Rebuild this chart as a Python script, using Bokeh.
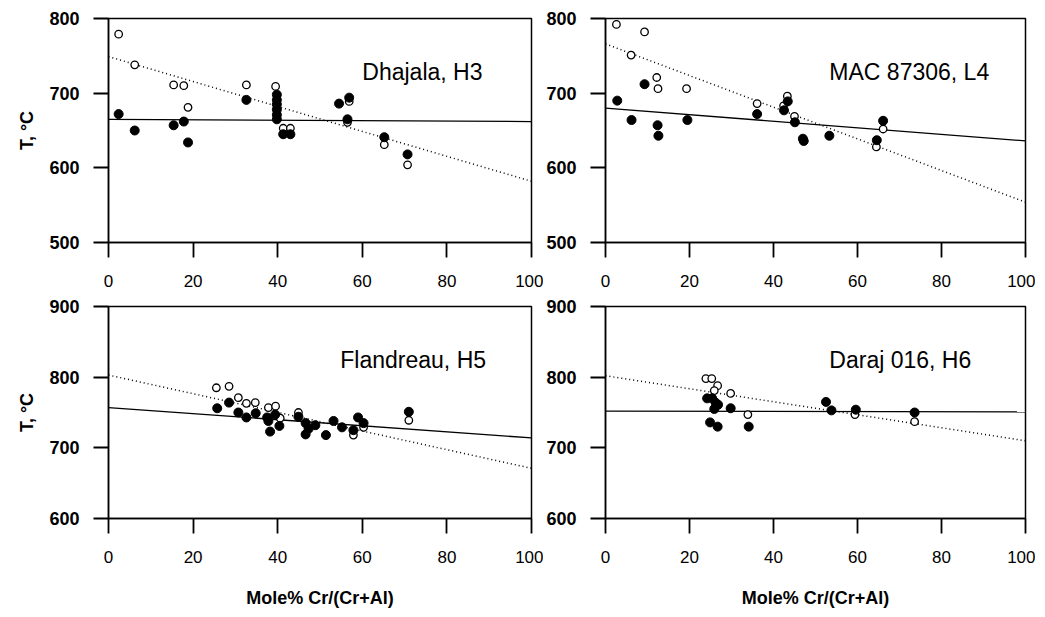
from bokeh.plotting import figure
from bokeh.layouts import column, row
from bokeh.models import FixedTicker, Range1d
from bokeh.core.properties import value
from bokeh.embed import file_html
from bokeh.resources import INLINE

FONT = "Liberation Sans"

# ---------------- data ----------------
x_ticks = [0, 20, 40, 60, 80, 100]
y_ticks_top = [500, 600, 700, 800]
y_ticks_bottom = [600, 700, 800, 900]
fit_x = [0, 100]

# Dhajala, H3
dh_open_x = [2.4, 6.2, 15.4, 17.8, 18.8, 32.6, 39.5, 41.3, 43.0, 56.9, 56.5, 65.2, 70.7]
dh_open_y = [779, 738, 711, 710, 681, 711, 709, 653, 653, 689, 661, 631, 604]
dh_fill_x = [2.4, 6.2, 15.4, 17.8, 18.8, 32.6, 39.8, 39.8, 39.8, 39.8, 39.8, 39.8,
             41.3, 43.0, 54.5, 56.9, 56.5, 65.2, 70.7]
dh_fill_y = [672, 650, 657, 662, 634, 691, 698, 691, 685, 678, 671, 665,
             645, 645, 686, 694, 665, 641, 618]
dh_solid = [665, 662]
dh_dotted = [749, 582]

# MAC 87306, L4
mac_open_x = [2.6, 6.1, 9.3, 12.2, 12.5, 19.3, 36.1, 42.4, 43.3, 45.0, 66.1, 64.5]
mac_open_y = [792, 751, 782, 721, 706, 706, 686, 683, 696, 669, 652, 628]
mac_fill_x = [2.8, 6.2, 9.3, 12.4, 12.6, 19.5, 36.1, 42.5, 43.4, 45.1, 47.0, 47.2,
              53.3, 64.6, 66.1]
mac_fill_y = [690, 664, 712, 657, 643, 664, 672, 677, 689, 661, 639, 636,
              643, 637, 663]
mac_solid = [680, 636]
mac_dotted = [766, 554]

# Flandreau, H5
fl_open_x = [25.5, 28.5, 30.7, 32.6, 34.7, 37.8, 39.5, 40.6, 44.9, 57.9, 60.3, 71.0]
fl_open_y = [785, 787, 771, 763, 764, 757, 759, 742, 750, 718, 729, 739]
fl_fill_x = [25.7, 28.5, 30.7, 32.6, 34.8, 37.5, 37.8, 38.2, 39.4, 40.4, 44.9, 46.6,
             46.6, 47.3, 48.9, 51.4, 53.2, 55.2, 57.9, 59.0, 60.3, 71.0]
fl_fill_y = [756, 764, 750, 743, 749, 743, 738, 723, 747, 731, 744, 735,
             719, 727, 732, 718, 738, 729, 725, 743, 735, 751]
fl_solid = [757, 714]
fl_dotted = [803, 671]

# Daraj 016, H6
da_open_x = [23.9, 25.3, 26.7, 25.9, 29.8, 33.9, 59.4, 73.6]
da_open_y = [798, 798, 788, 781, 777, 747, 747, 737]
da_fill_x = [24.2, 25.4, 26.2, 25.9, 26.8, 29.8, 24.9, 26.7, 34.1, 52.5, 53.8, 59.6, 73.6]
da_fill_y = [770, 770, 764, 755, 761, 756, 736, 730, 730, 765, 753, 754, 750]
da_solid = [752, 751]
da_dotted = [802, 710]

labels = ["Dhajala, H3", "MAC 87306, L4", "Flandreau, H5", "Daraj 016, H6"]
y_title = "T, °C"
x_title = "Mole% Cr/(Cr+Al)"


def make_panel(yr, yticks, ox, oy, fx, fy, solid, dotted, label, lx, ly,
               width, height, bl, br, bt, bb, ylab, xlab):
    p = figure(width=width, height=height, output_backend="svg", toolbar_location=None,
               x_range=Range1d(0, 100), y_range=Range1d(*yr),
               min_border_left=bl, min_border_right=br, min_border_top=bt,
               min_border_bottom=bb, background_fill_color="white",
               border_fill_color="white")
    p.xgrid.visible = False
    p.ygrid.visible = False
    p.outline_line_color = "black"
    p.outline_line_width = 1.5
    p.outline_line_alpha = 1

    p.xaxis.ticker = FixedTicker(ticks=x_ticks)
    p.yaxis.ticker = FixedTicker(ticks=yticks)
    p.axis.axis_line_color = "black"
    p.axis.axis_line_width = 1.5
    p.axis.major_tick_line_color = "black"
    p.axis.major_tick_line_width = 1.8
    p.axis.major_tick_in = 0
    p.axis.major_tick_out = 15
    p.axis.minor_tick_line_color = None
    p.axis.major_label_text_color = "black"
    p.axis.major_label_text_font = FONT
    p.axis.axis_label_text_color = "black"
    p.axis.axis_label_text_font = FONT
    p.axis.axis_label_text_font_style = "bold"

    p.xaxis.major_label_text_font_size = "17px"
    p.xaxis.major_label_standoff = 17
    p.yaxis.major_label_text_font_size = "18px"
    p.yaxis.major_label_text_font_style = "bold"
    p.yaxis.major_label_standoff = 14
    if ylab:
        p.yaxis.axis_label = y_title
        p.yaxis.axis_label_text_font_size = "18px"
        p.yaxis.axis_label_standoff = 9
    if xlab:
        p.xaxis.axis_label = x_title
        p.xaxis.axis_label_text_font_size = "18px"
        p.xaxis.axis_label_standoff = 22

    p.line(fit_x, solid, line_color="black", line_width=1.3)
    p.line(fit_x, dotted, line_color="black", line_width=1.5, line_dash="1 3")

    p.scatter(ox, oy, marker="circle", size=7.5, fill_color="white",
              line_color="black", line_width=1.3)
    p.scatter(fx, fy, marker="circle", size=9, fill_color="black",
              line_color="black", line_width=1)

    p.text(x=[lx], y=[ly], text=[label], text_font=value(FONT), text_font_size="23px",
           text_color="black", text_baseline="middle", text_align="left")
    return p


p1 = make_panel((500, 800), y_ticks_top, dh_open_x, dh_open_y, dh_fill_x, dh_fill_y,
                dh_solid, dh_dotted, labels[0], 60, 728,
                543, 294, 108, 12, 18, 52, True, False)
p2 = make_panel((500, 800), y_ticks_top, mac_open_x, mac_open_y, mac_fill_x, mac_fill_y,
                mac_solid, mac_dotted, labels[1], 53.3, 728,
                492, 294, 60, 10, 18, 52, False, False)
p3 = make_panel((600, 900), y_ticks_bottom, fl_open_x, fl_open_y, fl_fill_x, fl_fill_y,
                fl_solid, fl_dotted, labels[2], 54.8, 825,
                543, 316, 108, 12, 12, 80, True, True)
p4 = make_panel((600, 900), y_ticks_bottom, da_open_x, da_open_y, da_fill_x, da_fill_y,
                da_solid, da_dotted, labels[3], 53.3, 825,
                492, 316, 60, 10, 12, 80, False, True)

layout = column(row(p1, p2), row(p3, p4))
open("out.html", "w").write(file_html(layout, INLINE))
